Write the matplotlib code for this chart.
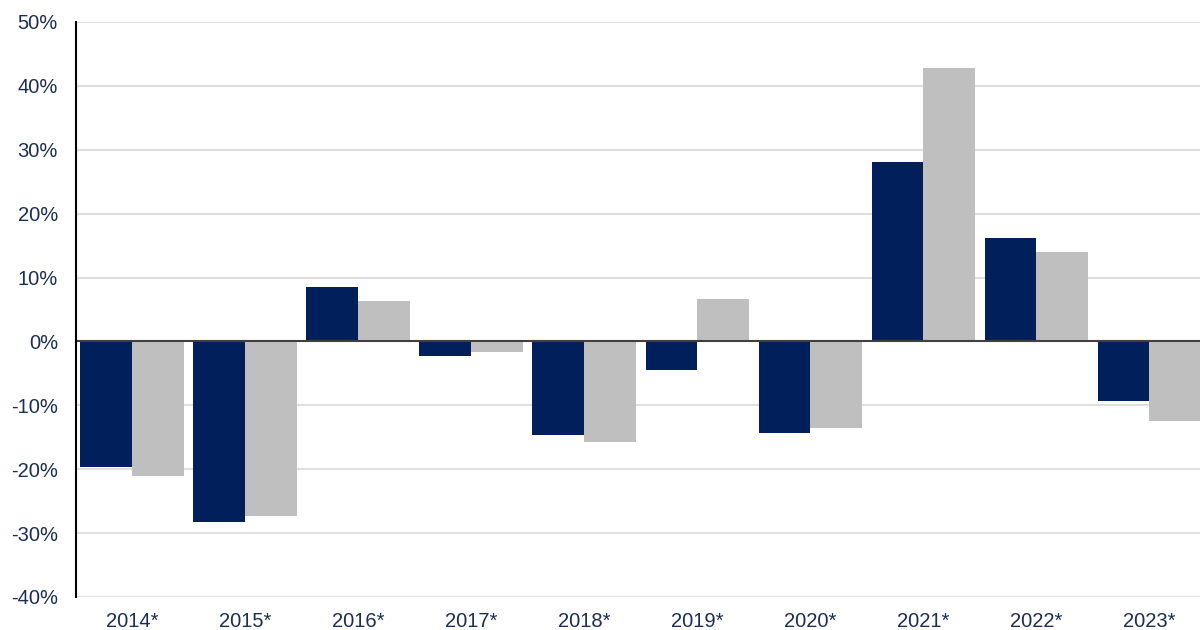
import numpy as np
import matplotlib.pyplot as plt
from matplotlib.ticker import FuncFormatter

years = ['2014*', '2015*', '2016*', '2017*', '2018*', '2019*', '2020*', '2021*', '2022*', '2023*']
navy_vals = [-19.6, -28.3, 8.5, -2.3, -14.7, -4.4, -14.4, 28.1, 16.2, -9.4]
gray_vals = [-21.1, -27.4, 6.3, -1.6, -15.8, 6.6, -13.5, 42.8, 14.0, -12.5]

navy = '#001f5b'
grey = '#bfbfbf'
txt = '#1c2e52'

plt.rcParams['font.family'] = ['Liberation Sans', 'DejaVu Sans']

fig = plt.figure(figsize=(12, 6.3), dpi=100)
ax = fig.add_axes([0.0633, 0.0524, 0.9417, 0.9127])

x = np.arange(len(years))
w = 0.46
ax.bar(x - w / 2, navy_vals, w, color=navy, zorder=3)
ax.bar(x + w / 2, gray_vals, w, color=grey, zorder=3)

ax.set_xlim(-0.5, len(years) - 0.5)
ax.set_ylim(-40, 50)
ax.set_yticks(np.arange(-40, 51, 10))
ax.yaxis.set_major_formatter(FuncFormatter(lambda v, p: f'{v:.0f}%'))
ax.set_xticks(x)
ax.set_xticklabels(years)
ax.grid(axis='y', color='#d9d9d9', linewidth=1.2, zorder=0)
ax.axhline(0, color='#404040', linewidth=1.5, zorder=4)

for s in ['top', 'right', 'bottom']:
    ax.spines[s].set_visible(False)
ax.spines['left'].set_color('black')
ax.spines['left'].set_linewidth(1.5)
ax.spines['left'].set_zorder(5)
ax.tick_params(axis='both', length=0, labelsize=14.5, labelcolor=txt)
ax.tick_params(axis='y', pad=13)
ax.tick_params(axis='x', pad=11)

fig.savefig('out.png', dpi=100)
